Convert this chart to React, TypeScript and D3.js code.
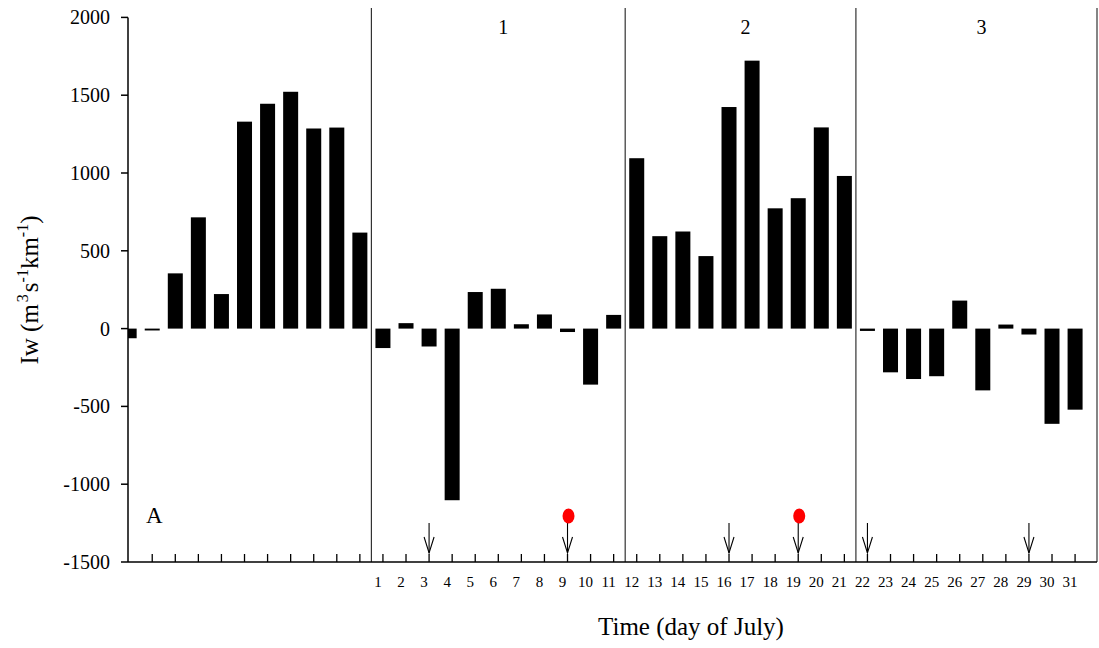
import React, { useEffect, useRef } from "react";
import * as d3 from "d3";

// 11 unlabeled days before July (panel A)
const preValues = [-62, -12, 355, 715, 222, 1330, 1445, 1522, 1286, 1292, 617];

// days of July
const julyDays = [
  1, 2, 3, 4, 5, 6, 7, 8, 9, 10, 11, 12, 13, 14, 15, 16, 17, 18, 19, 20, 21,
  22, 23, 24, 25, 26, 27, 28, 29, 30, 31,
];
const julyValues = [
  -125, 35, -115, -1103, 235, 256, 28, 91, -22, -360, 88,
  1095, 594, 624, 466, 1424, 1722, 773, 838, 1293, 981,
  -15, -281, -324, -306, 180, -397, 26, -38, -612, -521,
];

const yTicks = [-1500, -1000, -500, 0, 500, 1000, 1500, 2000];
const arrowDays = [3, 9, 16, 19, 22, 29];
const dotDays = [9, 19];
// panel separators fall between these days
const panelBreaks = [0.5, 11.5, 21.5];
const panelLabels = ["1", "2", "3"];

const FONT = "'Liberation Serif', 'Times New Roman', serif";

const App = () => {
  const ref = useRef<SVGSVGElement>(null);

  useEffect(() => {
    drawChart();
  }, []);

  const drawChart = () => {
    const width = 1099;
    const height = 648;
    const left = 128;
    const right = 1097;
    const top = 17.4;
    const bottom = 562;

    const svg = d3.select(ref.current);
    svg.selectAll("*").remove();

    const nPre = preValues.length;
    const data = [
      ...preValues.map((v, i) => ({ idx: i, value: v })),
      ...julyValues.map((v, i) => ({ idx: nPre + i, value: v })),
    ];
    const dayIdx = (d: number) => nPre + d - 1;

    const x = d3.scaleLinear().domain([-0.05, 41.95]).range([left, right]);
    const y = d3.scaleLinear().domain([-1500, 2000]).range([bottom, top]);
    const barW = 15;

    svg
      .append("defs")
      .append("clipPath")
      .attr("id", "plot-clip")
      .append("rect")
      .attr("x", left)
      .attr("y", 0)
      .attr("width", right - left)
      .attr("height", bottom);

    // bars
    svg
      .append("g")
      .attr("clip-path", "url(#plot-clip)")
      .selectAll("rect")
      .data(data)
      .join("rect")
      .attr("x", (d) => x(d.idx) - barW / 2)
      .attr("y", (d) => y(Math.max(0, d.value)))
      .attr("width", barW)
      .attr("height", (d) => Math.max(1.5, Math.abs(y(d.value) - y(0))))
      .attr("fill", "#000");

    // panel separators and right border
    const seps = [...panelBreaks.map((b) => dayIdx(b + 0.5) - 0.5), 41.95];
    svg
      .append("g")
      .selectAll("line")
      .data(seps)
      .join("line")
      .attr("x1", (d) => x(d))
      .attr("x2", (d) => x(d))
      .attr("y1", 8)
      .attr("y2", bottom)
      .attr("stroke", "#333")
      .attr("stroke-width", 1.2);

    // panel labels
    const edges = [x(seps[0]), x(seps[1]), x(seps[2]), x(seps[3])];
    svg
      .append("g")
      .selectAll("text")
      .data(panelLabels)
      .join("text")
      .attr("x", (d, i) => (edges[i] + edges[i + 1]) / 2 + 5)
      .attr("y", 34)
      .attr("text-anchor", "middle")
      .attr("font-family", FONT)
      .attr("font-size", 20)
      .text((d) => d);

    // y axis
    const yAxis = svg.append("g").attr("font-family", FONT);
    yAxis
      .append("line")
      .attr("x1", left)
      .attr("x2", left)
      .attr("y1", y(2000))
      .attr("y2", bottom)
      .attr("stroke", "#000")
      .attr("stroke-width", 1.5);
    yAxis
      .selectAll("line.tick")
      .data(yTicks)
      .join("line")
      .attr("class", "tick")
      .attr("x1", left - 7)
      .attr("x2", left)
      .attr("y1", (d) => y(d))
      .attr("y2", (d) => y(d))
      .attr("stroke", "#000")
      .attr("stroke-width", 1.5);
    yAxis
      .selectAll("text")
      .data(yTicks)
      .join("text")
      .attr("x", 110)
      .attr("y", (d) => y(d) + 7)
      .attr("text-anchor", "end")
      .attr("font-size", 20)
      .text((d) => String(d));

    // x axis
    const xAxis = svg.append("g").attr("font-family", FONT);
    xAxis
      .append("line")
      .attr("x1", left)
      .attr("x2", right)
      .attr("y1", bottom)
      .attr("y2", bottom)
      .attr("stroke", "#000")
      .attr("stroke-width", 1.5);
    const tickIdx = d3.range(1, nPre + julyDays.length);
    xAxis
      .selectAll("line.tick")
      .data(tickIdx)
      .join("line")
      .attr("class", "tick")
      .attr("x1", (d) => x(d))
      .attr("x2", (d) => x(d))
      .attr("y1", bottom - 8)
      .attr("y2", bottom)
      .attr("stroke", "#000")
      .attr("stroke-width", 1.3);
    xAxis
      .selectAll("text")
      .data(julyDays)
      .join("text")
      .attr("x", (d) => x(dayIdx(d)) - 5)
      .attr("y", 587)
      .attr("text-anchor", "middle")
      .attr("font-size", 15)
      .text((d) => String(d));

    // arrows
    const arrows = svg.append("g").attr("stroke", "#000").attr("fill", "none").attr("stroke-width", 1.1);
    arrowDays.forEach((d) => {
      const ax = x(dayIdx(d));
      arrows.append("line").attr("x1", ax).attr("x2", ax).attr("y1", 523).attr("y2", 553);
      arrows
        .append("path")
        .attr("d", d3.line()([[ax - 5, 537], [ax, 553], [ax + 5, 537]]));
    });

    // red dots
    svg
      .append("g")
      .selectAll("ellipse")
      .data(dotDays)
      .join("ellipse")
      .attr("cx", (d) => x(dayIdx(d)) + 1)
      .attr("cy", 516)
      .attr("rx", 6)
      .attr("ry", 7.5)
      .attr("fill", "#f00");

    // panel A label
    svg
      .append("text")
      .attr("x", 146)
      .attr("y", 523)
      .attr("font-family", FONT)
      .attr("font-size", 23)
      .text("A");

    // axis titles
    svg
      .append("text")
      .attr("x", 691)
      .attr("y", 635)
      .attr("text-anchor", "middle")
      .attr("font-family", FONT)
      .attr("font-size", 25)
      .text("Time (day of July)");

    const yt = svg
      .append("text")
      .attr("transform", "translate(38,290) rotate(-90)")
      .attr("text-anchor", "middle")
      .attr("font-family", FONT)
      .attr("font-size", 25);
    yt.append("tspan").text("Iw (m");
    yt.append("tspan").attr("font-size", 16).attr("dy", -10).attr("dx", 2).text("3");
    yt.append("tspan").attr("dy", 10).attr("dx", 2).text("s");
    yt.append("tspan").attr("font-size", 16).attr("dy", -10).text("-1");
    yt.append("tspan").attr("dy", 10).text("km");
    yt.append("tspan").attr("font-size", 16).attr("dy", -10).text("-1");
    yt.append("tspan").attr("dy", 10).text(")");

    svg.attr("width", width).attr("height", height);
  };

  return (
    <div>
      <svg
        ref={ref}
        width={1099}
        height={648}
        style={{ position: "absolute", left: 0, top: 0, background: "#fff" }}
      ></svg>
    </div>
  );
};

export default App;
